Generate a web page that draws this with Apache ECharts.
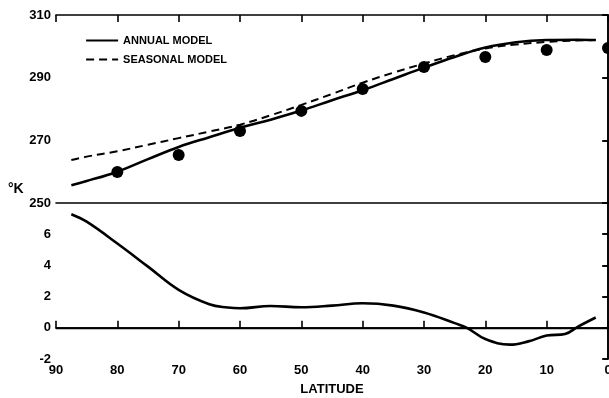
<!DOCTYPE html>
<html>
<head>
<meta charset="utf-8">
<script src="https://cdn.jsdelivr.net/npm/echarts@6/dist/echarts.min.js"></script>
<style>
  html, body { margin: 0; padding: 0; background: #fff; }
  #chart { width: 609px; height: 398px; }
</style>
</head>
<body>
<div id="chart"></div>
<script>
// latitude (deg) of the model curves
const latModel = [87.5, 85, 80, 75, 70, 65, 60, 55, 50, 45, 40, 35, 30, 25, 20, 15, 10, 5, 2];
const annualModel = [255.7, 257, 260, 264, 267.9, 271, 274, 276.6, 279.5, 282.8, 286, 289.6, 293.2, 296.6, 299.6, 301.3, 302, 302.1, 302];
const seasonalModel = [263.7, 264.8, 266.5, 268.6, 270.7, 272.8, 275, 278, 281.3, 284.8, 288.4, 291.6, 294.5, 297.2, 299.3, 300.6, 301.4, 301.9, 302];

// observed points
const latObs = [80, 70, 60, 50, 40, 30, 20, 10, 0];
const observed = [259.9, 265.3, 273, 279.4, 286.4, 293.4, 296.6, 298.8, 299.5];

// lower panel curve
const latDiff = [87.5, 85, 80, 75, 70, 65, 62, 60, 55, 50, 45, 40, 35, 30, 25, 23, 20, 16, 13, 10, 7, 5, 2];
const diffValues = [7.28, 6.8, 5.4, 3.92, 2.43, 1.51, 1.3, 1.25, 1.4, 1.32, 1.42, 1.57, 1.42, 0.98, 0.3, 0, -0.72, -1.08, -0.87, -0.5, -0.4, 0.05, 0.66];

const FONT = "'Liberation Sans Narrow', 'Liberation Sans', Arial, sans-serif";
const pairs = (xs, ys) => xs.map((x, i) => [x, ys[i]]);

const chart = echarts.init(document.getElementById('chart'));

const frame = { show: true, lineStyle: { color: '#000', width: 1.6 } };
const noTick = { show: false };
const noLabel = { show: false };
const noSplit = { show: false };
const labelStyle = { color: '#000', fontWeight: 'bold', fontSize: 13, fontFamily: FONT };

const latAxis = (grid, position, extra) => Object.assign({
  type: 'value', gridIndex: grid, position: position, inverse: true,
  min: 0, max: 90, interval: 10,
  axisLine: frame, axisTick: noTick, axisLabel: noLabel, splitLine: noSplit
}, extra);

const option = {
  animation: false,
  backgroundColor: '#fff',
  grid: [
    { left: 56, right: 1, top: 15, height: 188, outerBoundsMode: 'none' },
    { left: 56, right: 1, top: 203, height: 156, outerBoundsMode: 'none' }
  ],
  legend: {
    orient: 'vertical', left: 85, top: 35, padding: 0,
    itemWidth: 32, itemHeight: 10, itemGap: 8,
    data: ['ANNUAL MODEL', 'SEASONAL MODEL'],
    itemStyle: { color: 'rgba(0,0,0,0)', borderWidth: 0, opacity: 0 },
    lineStyle: { width: 2.2 },
    textStyle: { color: '#000', fontWeight: 'bold', fontSize: 11, fontFamily: FONT }
  },
  xAxis: [
    latAxis(0, 'top', { axisTick: { show: true, inside: true, length: 7, lineStyle: { color: '#000', width: 1.6 } } }),
    latAxis(0, 'bottom'),
    latAxis(1, 'bottom', {
      axisTick: { show: true, inside: true, length: 7, lineStyle: { color: '#000', width: 1.6 } },
      axisLabel: Object.assign({ margin: 5 }, labelStyle),
      name: 'LATITUDE', nameLocation: 'middle', nameGap: 24,
      nameTextStyle: labelStyle
    }),
    latAxis(1, 'top')
  ],
  yAxis: [
    {
      type: 'value', gridIndex: 0, position: 'left', min: 250, max: 310, interval: 20,
      axisLine: frame, splitLine: noSplit,
      axisTick: { show: true, length: 5, lineStyle: { color: '#000', width: 1.6 } },
      axisLabel: Object.assign({ margin: 5 }, labelStyle)
    },
    {
      type: 'value', gridIndex: 0, position: 'right', min: 250, max: 310, interval: 20,
      axisLine: frame, splitLine: noSplit, axisLabel: noLabel,
      axisTick: { show: true, inside: true, length: 6, lineStyle: { color: '#000', width: 1.6 } }
    },
    {
      type: 'value', gridIndex: 1, position: 'left', min: -2, max: 8, interval: 2,
      axisLine: frame, splitLine: noSplit,
      axisTick: { show: true, length: 5, lineStyle: { color: '#000', width: 1.6 } },
      axisLabel: Object.assign({ margin: 5, formatter: v => (v === 8 ? '' : v) }, labelStyle)
    },
    {
      type: 'value', gridIndex: 1, position: 'right', min: -2, max: 8, interval: 2,
      axisLine: frame, splitLine: noSplit, axisLabel: noLabel,
      axisTick: { show: true, inside: true, length: 6, lineStyle: { color: '#000', width: 1.6 } }
    }
  ],
  graphic: [
    { type: 'text', left: 8, top: 182, style: { text: '°K', fill: '#000', font: 'bold 14px ' + FONT } }
  ],
  series: [
    {
      name: 'ANNUAL MODEL', type: 'line', xAxisIndex: 0, yAxisIndex: 0,
      data: pairs(latModel, annualModel), smooth: 0.4, symbol: 'none',
      lineStyle: { color: '#000', width: 2.6 }, itemStyle: { color: '#000' }
    },
    {
      name: 'SEASONAL MODEL', type: 'line', xAxisIndex: 0, yAxisIndex: 0,
      data: pairs(latModel, seasonalModel), smooth: 0.4, symbol: 'none',
      lineStyle: { color: '#000', width: 2, type: [8, 5] }, itemStyle: { color: '#000' }
    },
    {
      name: 'OBSERVED', type: 'scatter', xAxisIndex: 0, yAxisIndex: 0,
      data: pairs(latObs, observed), symbolSize: 12, clip: false,
      itemStyle: { color: '#000', opacity: 1 }
    },
    {
      name: 'DIFFERENCE', type: 'line', xAxisIndex: 2, yAxisIndex: 2,
      data: pairs(latDiff, diffValues), smooth: 0.4, symbol: 'none',
      lineStyle: { color: '#000', width: 2.6 },
      markLine: {
        silent: true, symbol: 'none', label: { show: false },
        lineStyle: { color: '#000', width: 1.4, type: 'solid' },
        data: [{ yAxis: 0 }]
      }
    }
  ]
};

chart.setOption(option);
</script>
</body>
</html>
